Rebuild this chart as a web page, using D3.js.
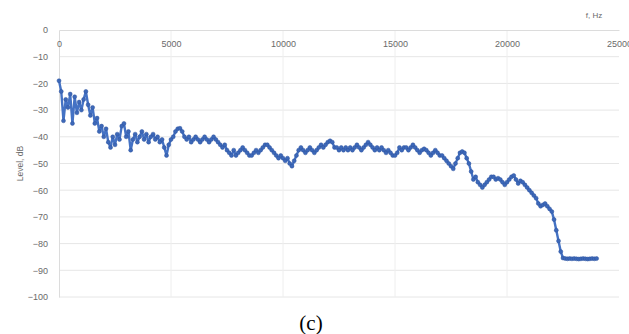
<!DOCTYPE html>
<html>
<head>
<meta charset="utf-8">
<script src="https://cdn.jsdelivr.net/npm/d3@7/dist/d3.min.js"></script>
<style>
  html, body { margin: 0; padding: 0; background: #fff; overflow: hidden; }
  svg { display: block; }
</style>
</head>
<body>
<svg id="chart" width="629" height="334"></svg>
<script>
// Spectrum level, one reading every 100 Hz from 0 Hz to 24000 Hz
const freqStepHz = 100;
const levelDb = [
  // 0 - 900 Hz
  -19, -23, -34, -26, -29, -24, -35, -25, -31, -27,
  // 1000 - 1900
  -30, -26, -23, -28, -32, -29, -35, -33, -38, -36,
  // 2000 - 2900
  -40, -37, -42, -44, -40, -43, -39, -41, -36, -35,
  // 3000 - 3900
  -40, -38, -45, -41, -39, -42, -40, -38, -41, -39,
  // 4000 - 4900
  -42, -40, -39, -41, -40, -42, -41, -44, -47, -43,
  // 5000 - 5900
  -41, -40, -38, -37, -36.8, -38, -40, -41, -40, -42,
  // 6000 - 6900
  -41, -40, -41, -42, -41, -40, -41, -42, -41, -40,
  // 7000 - 7900
  -41, -42, -43, -44, -43, -45, -46, -47, -45, -47,
  // 8000 - 8900
  -46, -45, -44, -45, -46, -47, -47, -46, -45, -46,
  // 9000 - 9900
  -45, -44, -43, -43, -44, -45, -46, -47, -48, -47,
  // 10000 - 10900
  -48, -49, -48, -50, -51, -49, -47, -45, -44, -45,
  // 11000 - 11900
  -46, -45, -44, -45, -46, -45, -44, -43, -44, -43,
  // 12000 - 12900
  -42, -41.5, -42, -44, -44, -45, -44, -45, -44, -45,
  // 13000 - 13900
  -44, -45, -44, -43, -44, -45, -44, -43, -42, -43,
  // 14000 - 14900
  -44, -45, -44, -45, -44, -45, -46, -45, -46, -47,
  // 15000 - 15900
  -47, -46, -44, -45, -44, -44, -45, -44, -43, -44,
  // 16000 - 16900
  -45, -46, -45, -44.5, -45, -46, -47, -46, -45, -46,
  // 17000 - 17900
  -47, -47, -48, -49, -50, -51, -52, -50, -48, -46,
  // 18000 - 18900
  -45.5, -46, -48, -50, -53, -56, -55, -57, -58, -59,
  // 19000 - 19900
  -58, -57, -56, -55, -55, -56, -55.5, -56, -57, -58,
  // 20000 - 20900
  -57, -56, -55, -54.5, -56, -57.5, -56.5, -57, -58, -59,
  // 21000 - 21900
  -60, -61, -62, -63, -65, -66, -65.5, -65, -66, -67,
  // 22000 - 22900
  -68, -71, -75, -79, -83, -85.4, -85.6, -85.7, -85.6, -85.7,
  // 23000 - 24000
  -85.6, -85.7, -85.8, -85.7, -85.6, -85.7, -85.8, -85.7, -85.6, -85.7, -85.6
];
const points = levelDb.map((v, i) => ({ f: i * freqStepHz, level: v }));

const xTicks = [0, 5000, 10000, 15000, 20000, 25000];
const yTicks = [0, -10, -20, -30, -40, -50, -60, -70, -80, -90, -100];
const xTitle = "f, Hz";
const yTitle = "Level, dB";
const caption = "(c)";

const svg = d3.select("#chart");
const plot = { left: 59, right: 619, top: 30, bottom: 297 };

const x = d3.scaleLinear().domain([0, 25000]).range([plot.left, plot.right]);
const y = d3.scaleLinear().domain([0, -100]).range([plot.top, plot.bottom]);

const labelFont = "Liberation Sans, Arial, sans-serif";

// horizontal gridlines
svg.append("g")
  .selectAll("line")
  .data(yTicks.filter(d => d !== 0))
  .join("line")
  .attr("x1", plot.left).attr("x2", plot.right)
  .attr("y1", d => y(d)).attr("y2", d => y(d))
  .attr("stroke", "#e6e6e6").attr("stroke-width", 1);

// vertical gridlines
svg.append("g")
  .selectAll("line")
  .data(xTicks.filter(d => d !== 0 && d < 25000))
  .join("line")
  .attr("x1", d => x(d)).attr("x2", d => x(d))
  .attr("y1", plot.top).attr("y2", plot.bottom)
  .attr("stroke", "#eeeeee").attr("stroke-width", 1);

// y axis on the left
const yAxis = d3.axisLeft(y).tickValues(yTicks).tickSize(0).tickPadding(11);
const gy = svg.append("g").attr("transform", `translate(${plot.left},0)`).call(yAxis);
gy.select(".domain").attr("stroke", "#dcdcdc");
gy.selectAll("text").attr("fill", "#6a6a6a").style("font", `9px ${labelFont}`);

// x axis along the 0 dB line at the top, labels hanging below it
const xAxis = d3.axisBottom(x).tickValues(xTicks).tickSize(0).tickPadding(11)
  .tickFormat(d3.format("d"));
const gx = svg.append("g").attr("transform", `translate(0,${plot.top})`).call(xAxis);
gx.select(".domain").attr("stroke", "#dcdcdc");
gx.selectAll("text").attr("fill", "#6a6a6a").style("font", `9px ${labelFont}`);

// axis titles
svg.append("text")
  .attr("x", 594).attr("y", 18)
  .attr("text-anchor", "middle")
  .attr("fill", "#6a6a6a")
  .style("font", `8px ${labelFont}`)
  .text(xTitle);

svg.append("text")
  .attr("transform", `translate(23,${y(-50)}) rotate(-90)`)
  .attr("text-anchor", "middle")
  .attr("fill", "#6a6a6a")
  .style("font", `8.5px ${labelFont}`)
  .text(yTitle);

// spectrum line with markers
const line = d3.line().x(d => x(d.f)).y(d => y(d.level));
svg.append("path")
  .datum(points)
  .attr("d", line)
  .attr("fill", "none")
  .attr("stroke", "#4472c4")
  .attr("stroke-width", 2.4)
  .attr("stroke-linejoin", "round");

svg.append("g")
  .selectAll("circle")
  .data(points)
  .join("circle")
  .attr("cx", d => x(d.f))
  .attr("cy", d => y(d.level))
  .attr("r", 2)
  .attr("fill", "#3d68b8")
  .attr("stroke", "#2f55a0")
  .attr("stroke-width", 0.5);

// figure caption
svg.append("text")
  .attr("x", 311).attr("y", 330)
  .attr("text-anchor", "middle")
  .attr("fill", "#000")
  .style("font", "21px 'Liberation Serif', 'Times New Roman', serif")
  .text(caption);
</script>
</body>
</html>
